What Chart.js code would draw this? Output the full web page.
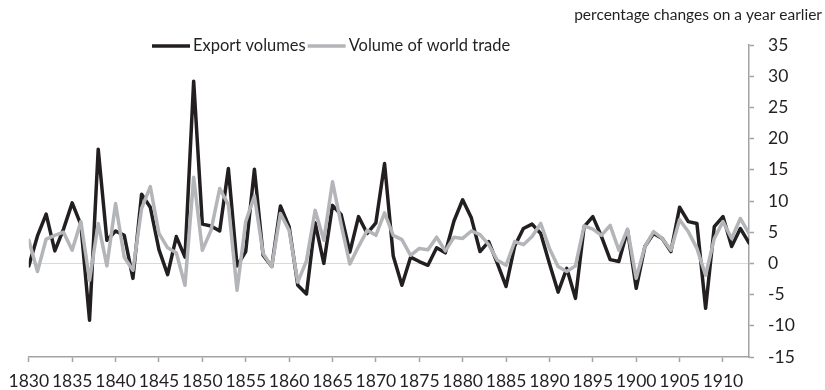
<!DOCTYPE html>
<html>
<head>
<meta charset="utf-8">
<script src="https://cdn.jsdelivr.net/npm/chart.js@4.4.1/dist/chart.umd.min.js"></script>
<style>
  html, body { margin: 0; padding: 0; background: #ffffff; }
  #wrap { width: 825px; height: 390px; }
</style>
</head>
<body>
<div id="wrap"><canvas id="chart" width="825" height="390"></canvas></div>
<script>
// Annual series, 1830–1913 (percentage change on the previous year)
const firstYear = 1830;
const lastYear = 1913;
const years = Array.from({ length: lastYear - firstYear + 1 }, (_, i) => firstYear + i);

const exportVolumes = [
  -0.4, 4.4, 7.9, 2.0, 5.5, 9.7, 6.2, -9.1, 18.3, 3.7,
   5.2, 4.5, -2.4, 11.1, 9.0, 2.2, -1.8, 4.3, 1.0, 29.2,
   6.3, 6.0, 5.2, 15.2, -0.4, 1.9, 15.1, 1.3, -0.5, 9.2,
   5.9, -3.5, -4.9, 6.5, 0.0, 9.3, 7.8, 1.8, 7.5, 4.8,
   6.5, 16.0, 1.2, -3.5, 1.0, 0.3, -0.3, 2.5, 1.7, 6.8,
  10.2, 7.3, 1.9, 3.5, 0.0, -3.7, 2.8, 5.6, 6.3, 4.8,
   0.0, -4.6, -0.8, -5.6, 5.9, 7.5, 4.3, 0.6, 0.3, 5.3,
  -4.0, 2.7, 4.8, 4.0, 1.9, 9.0, 6.7, 6.4, -7.2, 5.9,
   7.5, 2.7, 5.6, 3.3
];

const worldTrade = [
   3.7, -1.3, 3.9, 4.5, 5.0, 2.1, 6.7, -2.7, 6.4, -0.4,
   9.6, 1.0, -1.1, 8.8, 12.3, 4.8, 2.5, 1.7, -3.5, 13.8,
   2.1, 5.3, 12.0, 9.4, -4.3, 6.7, 10.8, 1.6, -0.5, 8.0,
   5.3, -3.0, 0.4, 8.5, 3.7, 13.1, 6.2, -0.1, 2.7, 5.3,
   4.5, 8.1, 4.5, 3.8, 1.3, 2.4, 2.2, 4.2, 2.0, 4.2,
   4.0, 5.2, 4.6, 3.0, 0.5, -0.3, 3.5, 3.0, 4.3, 6.4,
   2.4, -0.5, -1.3, -0.4, 6.0, 5.5, 4.5, 6.1, 2.1, 5.5,
  -2.4, 2.7, 5.1, 4.0, 2.1, 7.0, 5.1, 2.4, -1.9, 4.0,
   6.7, 4.0, 7.2, 4.8
];

const seriesNames = ['Export volumes', 'Volume of world trade'];
const unitNote = 'percentage changes on a year earlier';
const yMin = -15, yMax = 35, yStep = 5;
const xLabelStep = 5;
const xTickYears = years.filter(y => y % xLabelStep === 0);

// Styling
const FONT = 'Lato, "Open Sans", sans-serif';
const TEXT = '#231f20';
const AXIS = '#a3a3a3';
const ZERO = '#d9d9d9';
const BLACK = '#231f20';
const GREY = '#b4b5b8';

const toPoints = vals => vals.map((v, i) => ({ x: years[i], y: v }));

// Unit note at the top right and a single-row legend with line samples
const headerPlugin = {
  id: 'header',
  afterDraw(chart) {
    const ctx = chart.ctx;
    ctx.save();
    ctx.fillStyle = TEXT;
    ctx.textBaseline = 'middle';
    ctx.font = '15.5px ' + FONT;
    ctx.textAlign = 'right';
    ctx.fillText(unitNote, 822, 15);

    ctx.textAlign = 'left';
    ctx.font = '16.5px ' + FONT;
    let x = 152;
    const y = 46;
    chart.data.datasets.forEach(ds => {
      ctx.strokeStyle = ds.borderColor;
      ctx.lineWidth = ds.borderWidth;
      ctx.lineCap = 'butt';
      ctx.beginPath();
      ctx.moveTo(x, y);
      ctx.lineTo(x + 38, y);
      ctx.stroke();
      x += 41;
      ctx.fillText(ds.label, x, y);
      x += ctx.measureText(ds.label).width + 2;
    });
    ctx.restore();
  }
};

new Chart(document.getElementById('chart'), {
  type: 'line',
  data: {
    datasets: [
      {
        label: seriesNames[0],
        data: toPoints(exportVolumes),
        borderColor: BLACK,
        borderWidth: 3.5,
        order: 1
      },
      {
        label: seriesNames[1],
        data: toPoints(worldTrade),
        borderColor: GREY,
        borderWidth: 3.5,
        order: 0
      }
    ]
  },
  options: {
    responsive: false,
    animation: false,
    devicePixelRatio: 1,
    layout: { padding: { left: 24, top: 45, right: 0, bottom: 0 } },
    elements: {
      point: { radius: 0, hoverRadius: 0 },
      line: { tension: 0, borderJoinStyle: 'round', borderCapStyle: 'round', fill: false }
    },
    plugins: {
      legend: { display: false },
      title: { display: false },
      tooltip: { enabled: false }
    },
    scales: {
      x: {
        type: 'linear',
        min: firstYear,
        max: lastYear,
        afterBuildTicks: s => { s.ticks = xTickYears.map(v => ({ value: v })); },
        afterFit: s => { s.height = 33; },
        ticks: {
          autoSkip: false,
          maxRotation: 0,
          padding: 8.5,
          color: TEXT,
          font: { family: FONT, size: 17.5 },
          callback: v => String(v)
        },
        grid: {
          drawOnChartArea: false,
          drawTicks: true,
          tickLength: 5,
          tickColor: AXIS,
          tickWidth: 1.5
        },
        border: { color: AXIS, width: 1.5 }
      },
      y: {
        position: 'right',
        min: yMin,
        max: yMax,
        afterFit: s => { s.width = 76; },
        ticks: {
          stepSize: yStep,
          padding: 14,
          color: TEXT,
          font: { family: FONT, size: 17.5 }
        },
        grid: {
          color: c => (c.tick && c.tick.value === 0 ? ZERO : 'rgba(0,0,0,0)'),
          lineWidth: 1,
          drawTicks: true,
          tickLength: 5,
          tickColor: AXIS,
          tickWidth: 1.5
        },
        border: { color: AXIS, width: 1.5 }
      }
    }
  },
  plugins: [headerPlugin]
});
</script>
</body>
</html>
